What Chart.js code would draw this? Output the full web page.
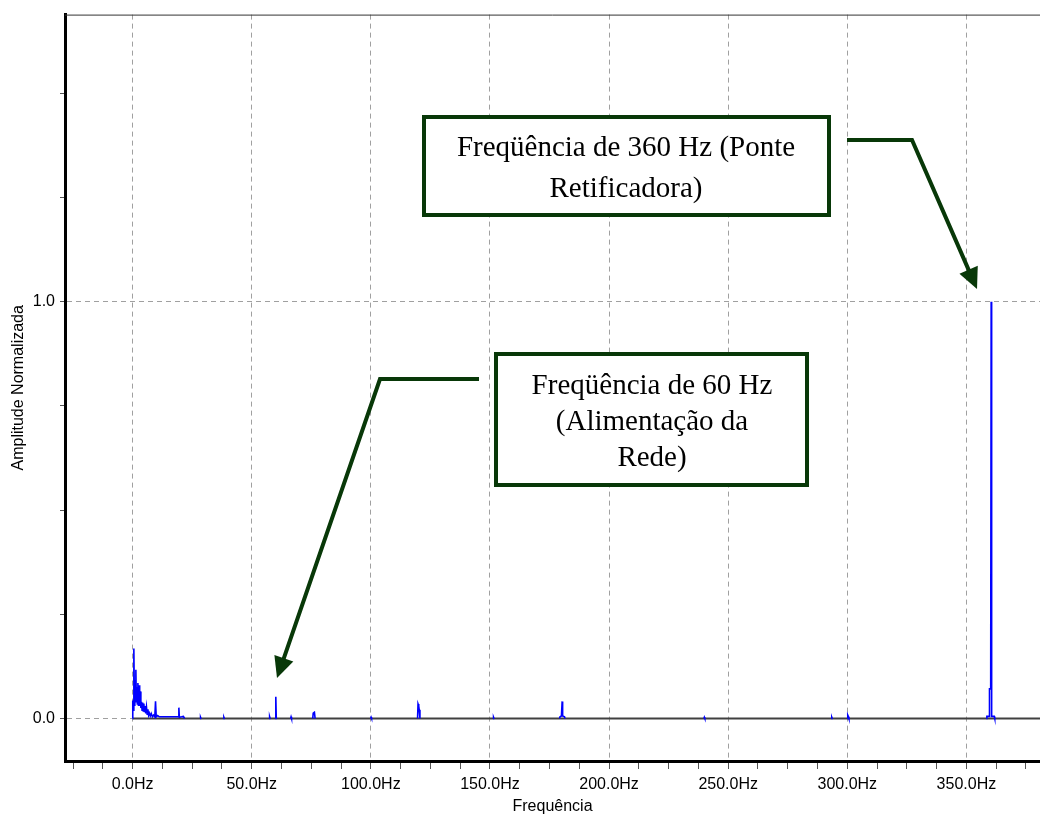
<!DOCTYPE html>
<html>
<head>
<meta charset="utf-8">
<title>Espectro de frequência</title>
<script src="https://cdn.jsdelivr.net/npm/chart.js@4.4.1/dist/chart.umd.min.js"></script>
<style>
  body { margin: 0; background: #fff; }
  canvas { display: block; }
</style>
</head>
<body>
<canvas id="chart" width="1040" height="816"></canvas>
<script>
'use strict';

// spectrum: frequency (Hz) and normalized amplitude
// a null amplitude breaks the trace between two peaks
let freqHz = [
  0.0, 0.05, 0.3, 0.5, 0.7, 0.9, 1.1, 1.35, 1.55, 1.75, 1.95, 2.2, 2.45, 2.7, 2.95,
  3.2, 3.45, 3.7, 3.95, 4.2, 4.45, 4.7, 4.95, 5.2, 5.5, 5.8, 6.1, 6.4, 6.7, 7.0,
  7.4, 7.8, 8.3, 8.8, 9.3, 9.6, 9.9, 10.5, 11.2, 12.5, 14.0, 16.0, 18.0, 19.2,
  19.4, 19.6, 20.5, 21.3, 21.8, 21.8,
  28.3, 28.5, 28.7, 28.7,
  38.1, 38.3, 38.5, 38.5,
  57.3, 57.5, 57.7, 57.7,
  59.9, 60.1, 60.3, 60.3,
  66.3, 66.5, 66.7, 66.7,
  75.6, 75.8, 76.3, 76.6, 76.6,
  99.9, 100.1, 100.3, 100.3,
  119.6, 119.8, 120.1, 120.3, 120.6, 120.6,
  151.3, 151.5, 151.7, 151.7,
  179.2, 179.4, 180.0, 180.3, 180.5, 181.3, 181.5, 181.5,
  239.8, 240.0, 240.2, 240.2,
  293.3, 293.5, 293.7, 293.7,
  300.0, 300.2, 300.5, 300.7, 300.7,
  358.4, 358.6, 359.6, 359.7, 360.2, 360.4, 360.6, 361.7, 361.9
];
let ampNorm = [
  0.0, 0.043, 0.02, 0.168, 0.06, 0.03, 0.09, 0.117, 0.04, 0.075, 0.035, 0.085, 0.03, 0.08, 0.03,
  0.065, 0.025, 0.04, 0.02, 0.038, 0.018, 0.036, 0.015, 0.03, 0.012, 0.028, 0.01, 0.022, 0.008, 0.013,
  0.006, 0.012, 0.004, 0.008, 0.004, 0.041, 0.004, 0.007, 0.004, 0.004, 0.004, 0.004, 0.004, 0.004,
  0.026, 0.003, 0.004, 0.005, 0.0, null,
  0, 0.003, 0, null,
  0, 0.003, 0, null,
  0, 0.004, 0, null,
  0, 0.052, 0, null,
  0, 0.004, 0, null,
  0, 0.013, 0.015, 0, null,
  0, 0.003, 0, null,
  0, 0.035, 0.03, 0.021, 0, null,
  0, 0.003, 0, null,
  0, 0.004, 0.006, 0.041, 0.006, 0.004, 0, null,
  0, 0.003, 0, null,
  0, 0.003, 0, null,
  0, 0.008, 0.004, 0, null,
  0, 0.005, 0.005, 0.071, 0.071, 1.0, 0.005, 0.005, 0
];

// zero line under the spectrum
let baseFreq = [0, 381];
let baseAmp = [0, 0];

let xTicks = [-25, -12.5, 0, 12.5, 25, 37.5, 50, 62.5, 75, 87.5, 100, 112.5, 125, 137.5, 150,
  162.5, 175, 187.5, 200, 212.5, 225, 237.5, 250, 262.5, 275, 287.5, 300, 312.5, 325, 337.5,
  350, 362.5, 375];
let xLabels = [0, 50, 100, 150, 200, 250, 300, 350];
let yTicks = [0, 0.25, 0.5, 0.75, 1, 1.25, 1.5];
let yLabels = [0, 1];

let boxColor = '#083808';
let gridGray = '#a0a0a0';

function toPoints(xs, ys) {
  let pts = [];
  for (let i = 0; i < xs.length; i++) {
    pts.push({ x: xs[i], y: ys[i] });
  }
  return pts;
}

function arrow(ctx, pts, headLen, headHalf) {
  let n = pts.length;
  let tip = pts[n - 1];
  let prev = pts[n - 2];
  let dx = tip[0] - prev[0];
  let dy = tip[1] - prev[1];
  let len = Math.sqrt(dx * dx + dy * dy);
  let ux = dx / len, uy = dy / len;
  let bx = tip[0] - ux * headLen, by = tip[1] - uy * headLen;

  ctx.beginPath();
  ctx.moveTo(pts[0][0], pts[0][1]);
  for (let i = 1; i < n - 1; i++) ctx.lineTo(pts[i][0], pts[i][1]);
  ctx.lineTo(bx + ux * 2, by + uy * 2);
  ctx.stroke();

  ctx.beginPath();
  ctx.moveTo(tip[0], tip[1]);
  ctx.lineTo(bx - uy * headHalf, by + ux * headHalf);
  ctx.lineTo(bx + uy * headHalf, by - ux * headHalf);
  ctx.closePath();
  ctx.fill();
}

function textBox(ctx, x, y, w, h, lines, cx, baselines) {
  ctx.fillStyle = '#fff';
  ctx.fillRect(x, y, w, h);
  ctx.lineWidth = 4;
  ctx.strokeStyle = boxColor;
  ctx.strokeRect(x + 2, y + 2, w - 4, h - 4);
  ctx.fillStyle = '#000';
  ctx.font = '29px "Liberation Serif", "Times New Roman", serif';
  ctx.textAlign = 'center';
  ctx.textBaseline = 'alphabetic';
  for (let i = 0; i < lines.length; i++) {
    ctx.fillText(lines[i], cx, baselines[i]);
  }
}

// callouts drawn over the plot
let calloutPlugin = {
  id: 'callouts',
  afterDraw(chart) {
    let ctx = chart.ctx;
    let area = chart.chartArea;
    ctx.save();

    // thin frame line on top of the plot
    ctx.strokeStyle = '#333';
    ctx.lineWidth = 1;
    ctx.beginPath();
    ctx.moveTo(area.left, area.top + 0.5);
    ctx.lineTo(area.right, area.top + 0.5);
    ctx.stroke();

    textBox(ctx, 422, 115, 409, 102,
      ['Freqüência de 360 Hz (Ponte', 'Retificadora)'], 626, [156, 197]);
    textBox(ctx, 494, 352, 315, 135,
      ['Freqüência de 60 Hz', '(Alimentação da', 'Rede)'], 652, [394, 430, 466]);

    ctx.strokeStyle = boxColor;
    ctx.fillStyle = boxColor;
    ctx.lineWidth = 4;
    ctx.lineJoin = 'miter';
    arrow(ctx, [[847, 140], [912, 140], [977, 289]], 21, 10);
    arrow(ctx, [[479, 379], [380, 379], [277, 678]], 21, 10);
    ctx.restore();
  }
};

function renderChart() {
  let canvas = document.getElementById('chart');

  new Chart(canvas, {
    type: 'line',
    data: {
      datasets: [{
        label: 'Espectro',
        data: toPoints(freqHz, ampNorm),
        borderColor: '#0000ff',
        borderWidth: 1.6,
        pointRadius: 0,
        tension: 0,
        spanGaps: false
      }, {
        label: 'Zero',
        data: toPoints(baseFreq, baseAmp),
        borderColor: '#404040',
        borderWidth: 2.2,
        pointRadius: 0
      }]
    },
    options: {
      responsive: false,
      animation: false,
      devicePixelRatio: 1,
      parsing: false,
      layout: { padding: { top: 7, right: 0, bottom: 0, left: 0 } },
      plugins: {
        legend: { display: false },
        tooltip: { enabled: false }
      },
      scales: {
        x: {
          type: 'linear',
          min: -28.4,
          max: 380.9,
          afterFit: (s) => { s.height = 55; },
          afterBuildTicks: (s) => { s.ticks = xTicks.map(v => ({ value: v })); },
          grid: {
            color: (c) => (c.tick && xLabels.includes(c.tick.value)) ? gridGray : 'rgba(0,0,0,0)',
            tickColor: '#555',
            tickLength: 8,
            lineWidth: 1
          },
          border: { display: true, color: '#000', width: 3, dash: [5, 4] },
          ticks: {
            autoSkip: false,
            maxRotation: 0,
            padding: 6,
            color: '#000',
            font: { family: '"Liberation Sans", Arial, sans-serif', size: 16 },
            callback: (v) => xLabels.includes(v) ? v.toFixed(1) + 'Hz' : ''
          },
          title: {
            display: true,
            text: 'Frequência',
            color: '#000',
            padding: { top: 0, bottom: 0 },
            font: { family: '"Liberation Sans", Arial, sans-serif', size: 16 }
          }
        },
        y: {
          type: 'linear',
          min: -0.102,
          max: 1.689,
          afterFit: (s) => { s.width = 65; },
          afterBuildTicks: (s) => { s.ticks = yTicks.map(v => ({ value: v })); },
          grid: {
            color: (c) => (c.tick && yLabels.includes(c.tick.value)) ? gridGray : 'rgba(0,0,0,0)',
            tickColor: '#555',
            tickLength: 5,
            lineWidth: 1
          },
          border: { display: true, color: '#000', width: 3, dash: [5, 4] },
          ticks: {
            autoSkip: false,
            padding: 5,
            color: '#000',
            font: { family: '"Liberation Sans", Arial, sans-serif', size: 16 },
            callback: (v) => yLabels.includes(v) ? v.toFixed(1) : ''
          },
          title: {
            display: true,
            text: 'Amplitude Normalizada',
            color: '#000',
            padding: { top: 9, bottom: 0 },
            font: { family: '"Liberation Sans", Arial, sans-serif', size: 16 }
          }
        }
      }
    },
    plugins: [calloutPlugin]
  });
}
renderChart();
</script>
</body>
</html>
